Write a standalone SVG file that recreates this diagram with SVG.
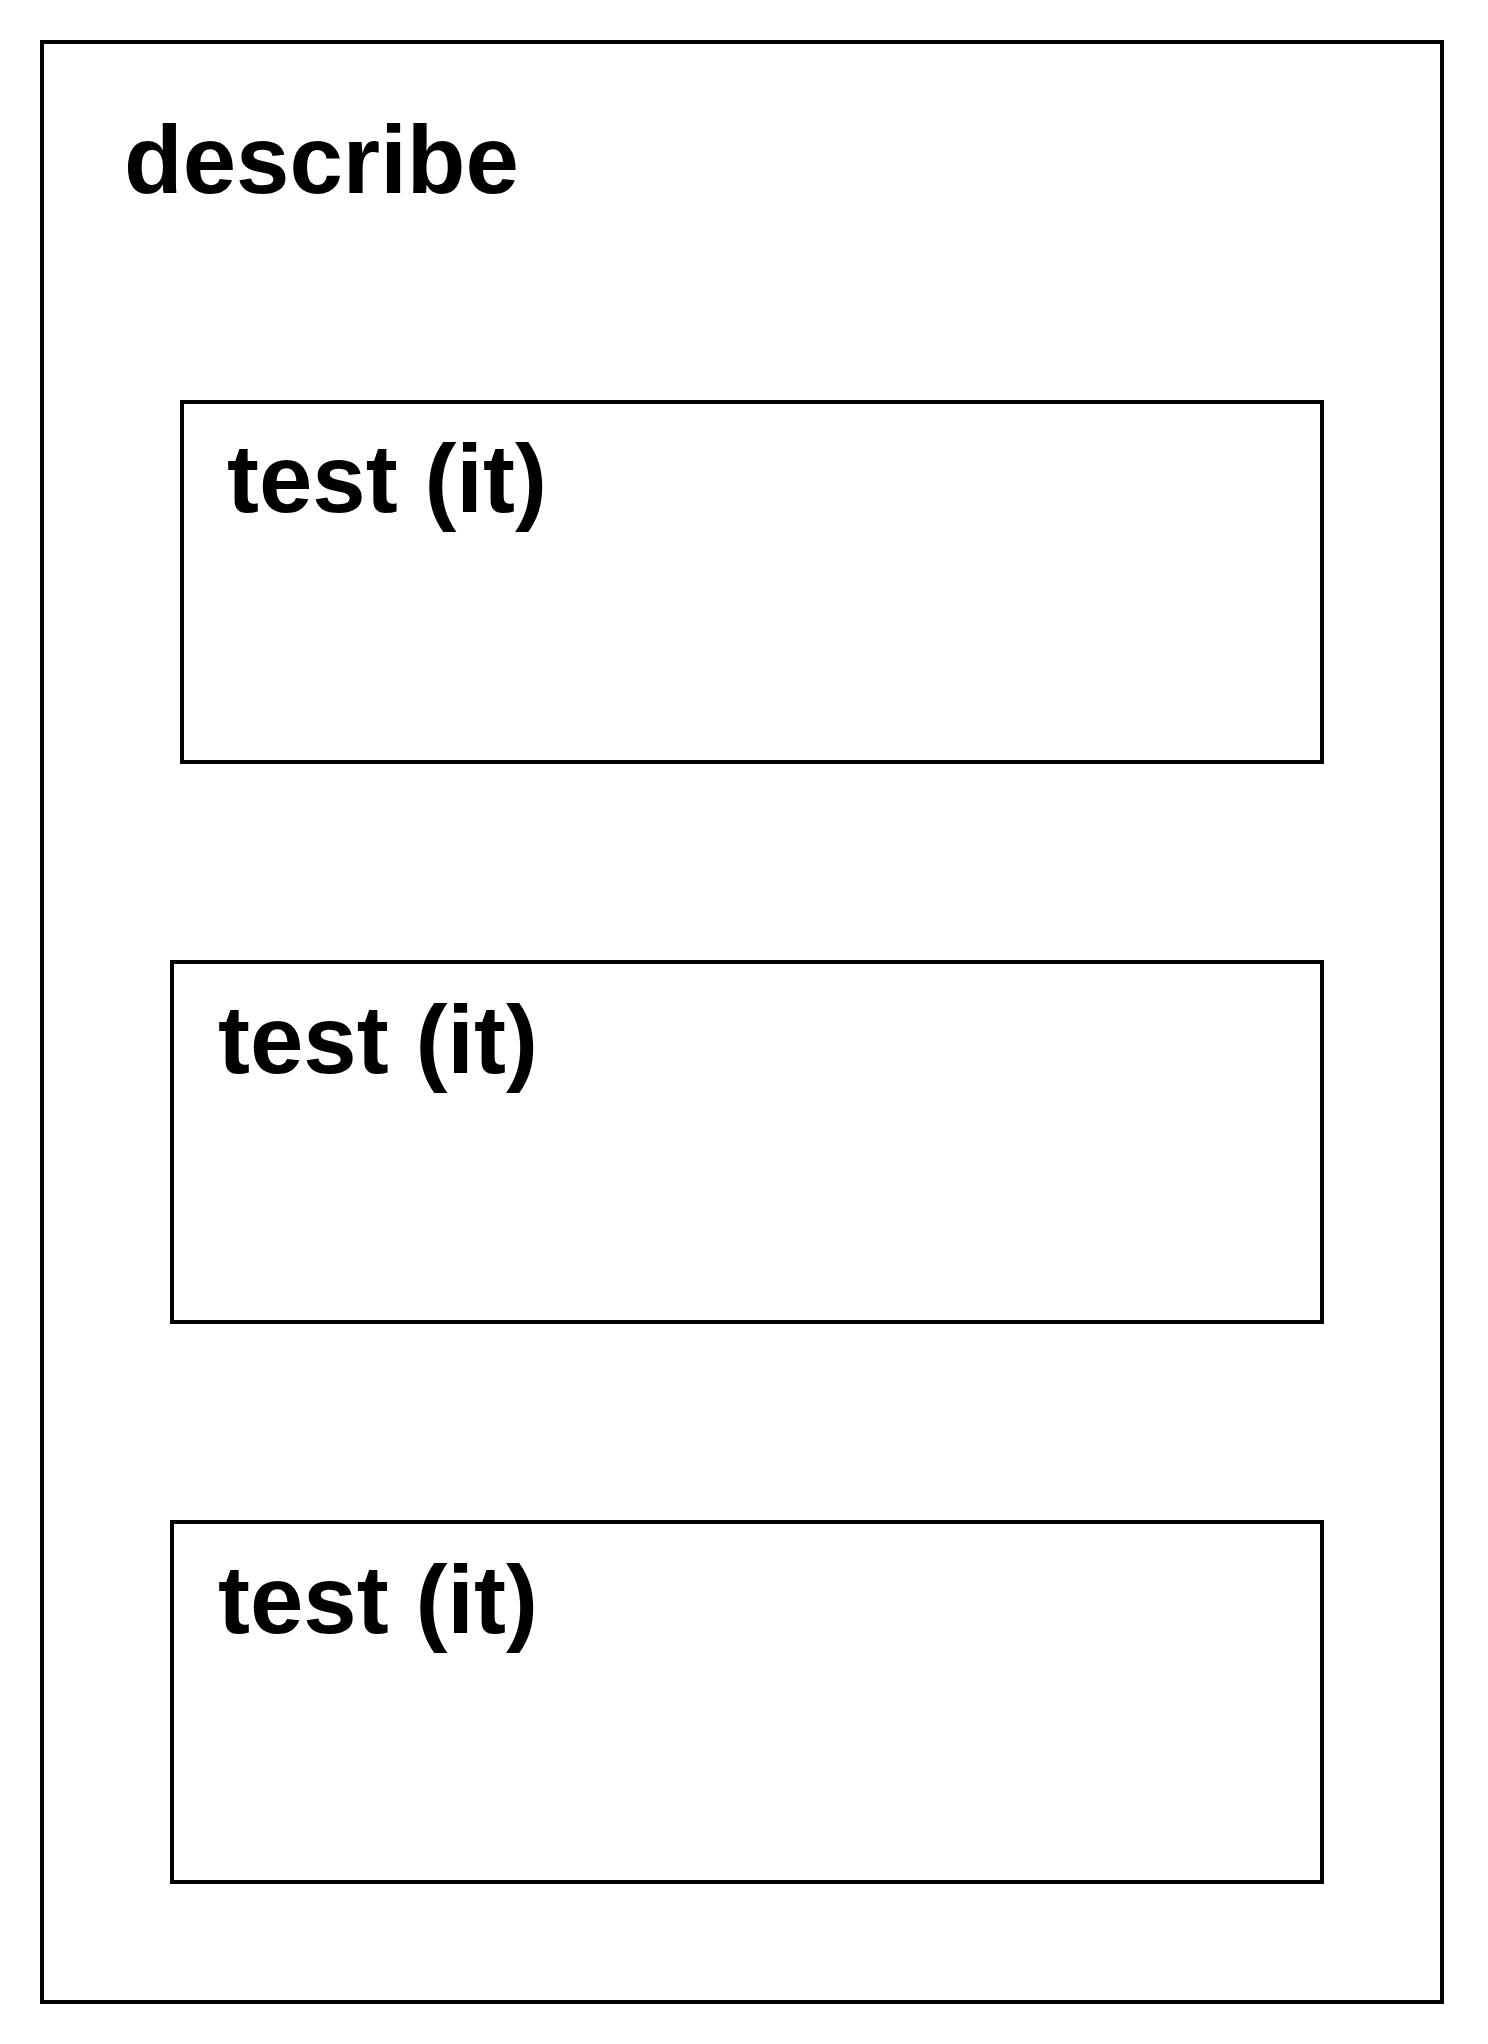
<svg xmlns="http://www.w3.org/2000/svg" width="1488" height="2044" viewBox="0 0 1488 2044">
<style>
.box{fill:none;stroke:#000;stroke-width:4}
.lbl{font-family:"Liberation Sans",Arial,sans-serif;font-weight:bold;font-size:96px;fill:#000}
</style>
<rect x="0" y="0" width="1488" height="2044" fill="#fff"/>
<g id="describe">
<rect class="box" x="42" y="42" width="1400" height="1960"/>
<text class="lbl" x="124" y="193">describe</text>
</g>
<g id="test1">
<rect class="box" x="182" y="402" width="1140" height="360"/>
<text class="lbl" x="227" y="512">test (it)</text>
</g>
<g id="test2">
<rect class="box" x="172" y="962" width="1150" height="360"/>
<text class="lbl" x="218" y="1073">test (it)</text>
</g>
<g id="test3">
<rect class="box" x="172" y="1522" width="1150" height="360"/>
<text class="lbl" x="218" y="1633">test (it)</text>
</g>
<g id="connectors"></g>
</svg>
